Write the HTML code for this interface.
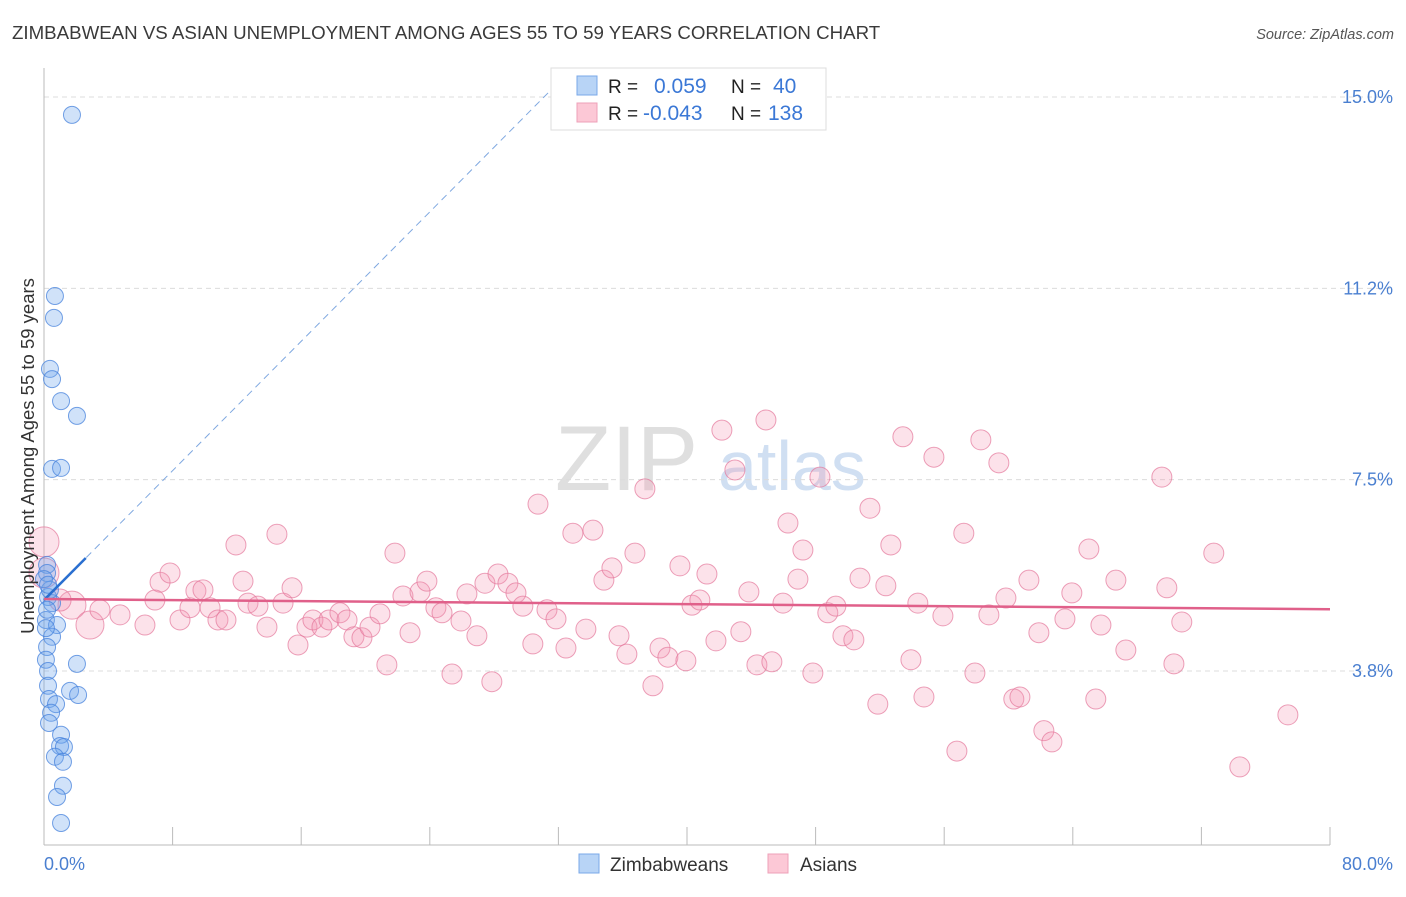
<!DOCTYPE html>
<html><head><meta charset="utf-8"><style>
body{margin:0;background:#fff;font-family:"Liberation Sans",sans-serif}
svg text{font-family:"Liberation Sans",sans-serif}
</style></head><body>
<svg id="c" width="1406" height="892" xmlns="http://www.w3.org/2000/svg">
<text x="12" y="39" font-size="18.7" fill="#3a3a3a">ZIMBABWEAN VS ASIAN UNEMPLOYMENT AMONG AGES 55 TO 59 YEARS CORRELATION CHART</text>
<text x="1394" y="39" font-size="14.5" fill="#555" font-style="italic" text-anchor="end">Source: ZipAtlas.com</text>
<text x="555" y="490" font-size="92" fill="#d8d8d8" font-family="Liberation Serif" opacity="0.8">ZIP</text>
<text x="718" y="490" font-size="70" fill="#c5d8f0" opacity="0.8">atlas</text>
<g id="grid"></g><g id="axes"></g><g id="pts"></g><g id="lines"></g>
<text transform="translate(34,456) rotate(-90)" font-size="18.5" fill="#333" text-anchor="middle">Unemployment Among Ages 55 to 59 years</text>
<text x="44" y="870" font-size="18" fill="#4a7fd0">0.0%</text>
<text x="1393" y="870" font-size="18" fill="#4a7fd0" text-anchor="end">80.0%</text>
<g>
<rect x="551" y="68" width="275" height="62" fill="#fff" stroke="#ddd"/>
<rect x="577" y="76" width="20" height="19" fill="#b8d4f6" stroke="#7aa8e8"/>
<rect x="577" y="103" width="20" height="19" fill="#fcc8d6" stroke="#eea0b8"/>
<text x="608" y="93" font-size="19" fill="#222">R =</text><text x="654" y="93" font-size="21" fill="#3b78d6">0.059</text>
<text x="731" y="93" font-size="19" fill="#222">N =</text><text x="773" y="93" font-size="21" fill="#3b78d6">40</text>
<text x="608" y="120" font-size="19" fill="#222">R =</text><text x="643" y="120" font-size="21" fill="#3b78d6">-0.043</text>
<text x="731" y="120" font-size="19" fill="#222">N =</text><text x="768" y="120" font-size="21" fill="#3b78d6">138</text>
</g>
<g>
<rect x="579" y="854" width="20" height="19" fill="#b8d4f6" stroke="#7aa8e8"/>
<text x="610" y="871" font-size="19" fill="#333">Zimbabweans</text>
<rect x="768" y="854" width="20" height="19" fill="#fcc8d6" stroke="#eea0b8"/>
<text x="800" y="871" font-size="19" fill="#333">Asians</text>
</g>
</svg>
<script>
const yTicks=[15.0,11.25,7.5,3.75];
const yTickLabels=["15.0%","11.2%","7.5%","3.8%"];
const xTicks=[8,16,24,32,40,48,56,64,72,80];
const blueX=[1.74,0.68,0.62,0.37,0.50,1.06,2.05,0.50,1.06,0.19,0.19,0.25,0.50,0.12,0.81,0.50,0.19,0.12,2.05,0.25,0.25,1.62,2.12,0.31,0.75,0.44,0.31,1.06,1.00,1.24,0.68,1.18,1.18,0.81,1.06,0.12,0.19,0.37,0.0,0.25];
const blueY=[14.65,11.10,10.67,9.67,9.47,9.04,8.75,7.71,7.73,5.83,5.67,5.20,5.08,4.75,4.65,4.42,4.22,3.97,3.89,3.75,3.46,3.36,3.28,3.20,3.10,2.93,2.73,2.50,2.28,2.26,2.07,1.97,1.50,1.28,0.77,4.59,4.95,5.34,5.55,5.44];
const pinkX=[0,0,1.74,2.86,1.00,3.48,4.73,6.28,7.22,7.84,6.90,8.46,9.08,9.45,9.89,10.33,10.82,11.32,11.94,12.38,12.69,13.31,13.87,14.49,14.87,15.43,15.80,16.36,16.73,17.29,17.73,18.41,18.85,19.28,19.78,20.28,20.90,21.33,21.83,22.33,22.77,23.39,23.82,24.38,24.76,25.38,25.94,26.31,26.93,27.43,27.86,28.24,28.86,29.36,29.79,30.41,30.73,31.29,31.85,32.47,32.90,33.71,34.15,34.83,35.33,35.77,36.26,36.76,37.38,37.88,38.32,38.81,39.56,39.93,40.31,40.80,41.24,41.80,42.17,42.98,43.35,43.85,44.35,44.91,45.28,45.97,46.28,46.90,47.21,47.83,48.27,48.76,49.26,49.70,50.38,50.76,51.38,51.87,52.37,52.68,53.43,53.93,54.36,54.74,55.36,55.92,56.79,57.22,57.91,58.28,58.78,59.40,59.84,60.33,60.71,61.27,61.89,62.20,62.70,63.51,63.94,65.00,65.75,65.43,66.68,67.30,69.54,69.85,70.29,70.78,72.77,74.39,77.38];
const pinkY=[6.28,5.67,5.04,4.65,5.14,4.95,4.85,4.65,5.49,5.67,5.14,4.75,4.99,5.32,5.34,4.99,4.75,4.75,6.22,5.51,5.08,5.02,4.61,6.43,5.08,5.38,4.26,4.61,4.75,4.61,4.75,4.89,4.75,4.42,4.40,4.61,4.87,3.87,6.06,5.22,4.50,5.30,5.51,4.99,4.89,3.69,4.73,5.26,4.44,5.47,3.54,5.65,5.47,5.28,5.02,4.28,7.02,4.95,4.77,4.20,6.45,4.57,6.51,5.53,5.77,4.44,4.08,6.06,7.32,3.46,4.20,4.02,5.81,3.95,5.04,5.14,5.65,4.34,8.47,7.69,4.52,5.30,3.87,8.67,3.93,5.08,6.65,5.55,6.12,3.71,7.55,4.89,5.02,4.44,4.36,5.57,6.94,3.10,5.42,6.22,8.34,3.97,5.08,3.24,7.94,4.83,2.18,6.45,3.71,8.28,4.85,7.83,5.18,3.20,3.24,5.53,4.50,2.58,2.36,4.77,5.28,6.14,4.65,3.20,5.53,4.16,7.55,5.38,3.89,4.71,6.06,1.87,2.89];
const pinkBig=[15,15,14,14,11];
const blueLine=[5.14,0.317];
const pinkLine=[5.16,-0.0025];
const X0=44,X1=1330,YT=97,PPU=51.02;
const sx=v=>X0+v/80*(X1-X0);
const sy=v=>YT+(15-v)*PPU;
const NS="http://www.w3.org/2000/svg";
function mk(t,a,p){const e=document.createElementNS(NS,t);for(const k in a)e.setAttribute(k,a[k]);p.appendChild(e);return e;}
const grid=document.getElementById('grid'),axes=document.getElementById('axes'),pts=document.getElementById('pts'),lines=document.getElementById('lines');
yTicks.forEach((v,i)=>{
 const l=mk('line',{x1:X0,x2:1394,y1:sy(v),y2:sy(v),stroke:'#dcdcdc','stroke-dasharray':'5,4'},grid);
 
 
 const t=mk('text',{x:1393,y:sy(v)+6,'font-size':18,fill:'#4a7fd0','text-anchor':'end'},grid);
 t.textContent=yTickLabels[i];
 
 
});
const ya=mk('line',{x1:X0,x2:X0,y1:68,y2:845,stroke:'#bbb'},axes);


const xa=mk('line',{x1:X0,x2:X1,y1:845,y2:845,stroke:'#bbb'},axes);


xTicks.forEach(v=>{
 const t=mk('line',{x1:sx(v),x2:sx(v),y1:827,y2:845,stroke:'#bbb'},axes);
 
 
});
pinkX.forEach((x,i)=>{
 const r=i<pinkBig.length?pinkBig[i]:10;
 const c=mk('circle',{cx:sx(x),cy:sy(pinkY[i]),r:r,fill:'rgba(244,150,178,0.28)',stroke:'rgba(228,120,155,0.7)','stroke-width':1},pts);
 
 
});
blueX.forEach((x,i)=>{
 const c=mk('circle',{cx:sx(x),cy:sy(blueY[i]),r:8.5,fill:'rgba(110,165,235,0.32)',stroke:'rgba(70,130,220,0.75)','stroke-width':1},pts);
 
 
});
const bl=v=>blueLine[0]+blueLine[1]*v;
const bd=mk('line',{x1:sx(0),y1:sy(bl(0)),x2:sx(32.1),y2:sy(bl(32.1)),stroke:'#7fa8e0','stroke-width':1,'stroke-dasharray':'7,5'},lines);


const bs=mk('line',{x1:sx(0),y1:sy(bl(0)),x2:sx(2.6),y2:sy(bl(2.6)),stroke:'#2a6fd0','stroke-width':2.5},lines);


const pl=v=>pinkLine[0]+pinkLine[1]*v;
const ps=mk('line',{x1:sx(0),y1:sy(pl(0)),x2:sx(80),y2:sy(pl(80)),stroke:'#e0608a','stroke-width':2.5},lines);


</script>
</body></html>
